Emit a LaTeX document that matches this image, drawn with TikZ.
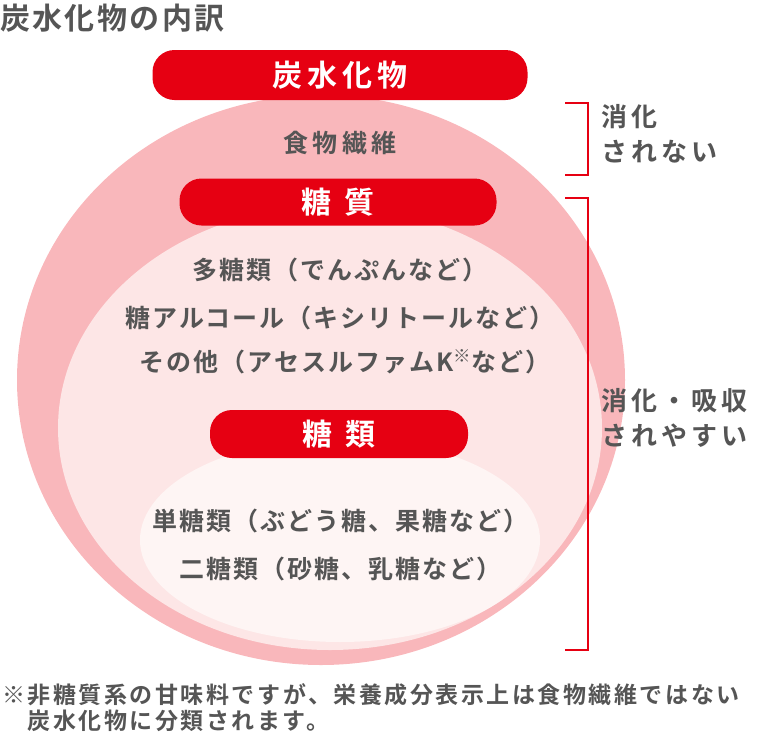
\documentclass[tikz,border=0pt]{standalone}
\usepackage{fontspec}
\setmainfont{Noto Sans CJK JP}[BoldFont={Noto Sans CJK JP Bold}]
\definecolor{myred}{HTML}{E60012}
\definecolor{pk1}{HTML}{F9B7BB}
\definecolor{pk2}{HTML}{FDE6E6}
\definecolor{pk3}{HTML}{FEF5F4}
\definecolor{tx}{HTML}{555555}
\begin{document}
\begin{tikzpicture}[x=1pt,y=-1pt,
  pill/.style={fill=myred,rounded corners=22pt,text=white,font=\fontsize{30}{32}\selectfont\bfseries,inner sep=0pt},
  body/.style={text=tx,font=\fontsize{25}{28}\selectfont\bfseries\addfontfeature{LetterSpace=8}},
  brk/.style={draw=myred,line width=1.3pt}]
\useasboundingbox (0,0) rectangle (758,742);
\node[body,anchor=west,inner sep=0pt,font=\fontsize{30}{32}\selectfont\bfseries\addfontfeature{LetterSpace=8}] (title) at (0,18) {炭水化物の内訳};
\fill[pk1] (321,380) ellipse [x radius=304, y radius=285];
\fill[pk2] (330,428) ellipse [x radius=272, y radius=222];
\fill[pk3] (340,540) ellipse [x radius=200, y radius=102];
\node[pill,minimum width=375pt,minimum height=50pt] (c) at (340,75) {炭\,水\,化\,物};
\node[body] (f) at (340,143) {食\,物\,繊\,維};
\node[pill,minimum width=317pt,minimum height=47pt] (t) at (338,202) {糖\;\,質};
\node[body] (a1) at (340,270) {多糖類（でんぷんなど）};
\node[body] (a2) at (340,318) {糖アルコール（キシリトールなど）};
\node[body] (a3) at (345,362) {その他（アセスルファムK\textsuperscript{※}など）};
\node[pill,minimum width=258pt,minimum height=48pt] (s) at (339,434) {糖\;\,類};
\node[body] (b1) at (340,521) {単糖類（ぶどう糖、果糖など）};
\node[body] (b2) at (340,569) {二糖類（砂糖、乳糖など）};
\coordinate (p1) at (565,103); \coordinate (p2) at (588,103);
\coordinate (p3) at (588,175); \coordinate (p4) at (565,175);
\draw[brk] (p1)--(p2)--(p3)--(p4);
\coordinate (q1) at (565,198); \coordinate (q2) at (588,198);
\coordinate (q3) at (588,650); \coordinate (q4) at (565,650);
\draw[brk] (q1)--(q2)--(q3)--(q4);
\node[body,anchor=north west,align=left,font=\fontsize{26}{35}\selectfont\bfseries\addfontfeature{LetterSpace=15}] (l1) at (598,101) {消化\\されない};
\node[body,anchor=north west,align=left,font=\fontsize{26}{35}\selectfont\bfseries\addfontfeature{LetterSpace=15}] (l2) at (598,385) {消化・吸収\\されやすい};
\node[body,anchor=north west,align=left,inner sep=0pt,font=\fontsize{23}{26}\selectfont\bfseries\addfontfeature{LetterSpace=11}] (fn) at (2,683) {※非糖質系の甘味料ですが、栄養成分表示上は食物繊維ではない\\\hspace*{1.1em}炭水化物に分類されます。};
\end{tikzpicture}
\end{document}
